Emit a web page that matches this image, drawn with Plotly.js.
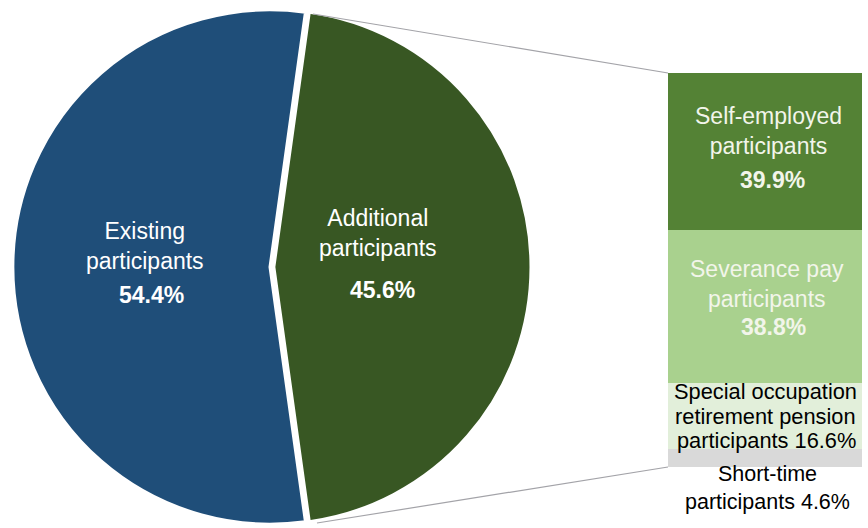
<!DOCTYPE html>
<html>
<head>
<meta charset="utf-8">
<script src="https://cdn.plot.ly/plotly-3.0.1.min.js"></script>
<style>
  html, body { margin: 0; padding: 0; background: #ffffff; }
  #chart { width: 868px; height: 528px; }
</style>
</head>
<body>
<div id="chart"></div>
<script>
// ---- data ----
const pieLabels = ['Additional participants', 'Existing participants'];
const pieValues = [45.6, 54.4];
const pieColors = ['#385723', '#1f4e79'];
const pieLabelLines = [['Additional', 'participants'], ['Existing', 'participants']];

const barLabels = ['Short-time participants', 'Special occupation retirement pension participants', 'Severance pay participants', 'Self-employed participants'];
const barValues = [4.6, 16.6, 38.8, 39.9];
const barColors = ['#d9d9d9', '#e2efda', '#a9d18e', '#548235'];
const barLabelLines = [
  ['Short-time', 'participants'],
  ['Special occupation', 'retirement pension', 'participants'],
  ['Severance pay', 'participants'],
  ['Self-employed', 'participants']
];

// ---- layout helpers ----
const W = 868, H = 528;
const FONT = 'Liberation Sans, Arial, sans-serif';
const px = x => x / W;
const py = y => 1 - y / H;
const pct = v => v.toFixed(1) + '%';

// centred annotation; firstBase/lastBase are the baselines of first and last line
function ann(lines, x, firstBase, lastBase, size, color) {
  const mid = (firstBase + lastBase) / 2 - 0.35 * size;
  return {
    text: lines.join('<br>'), xref: 'paper', yref: 'paper',
    x: px(x), y: py(mid),
    xanchor: 'center', yanchor: 'middle', align: 'center', showarrow: false,
    font: { family: FONT, size: size, color: color }
  };
}

const pieTrace = {
  type: 'pie',
  labels: pieLabels,
  values: pieValues,
  sort: false,
  direction: 'clockwise',
  rotation: 90 - pieValues[0] / 100 * 180,
  pull: [0.015, 0],
  marker: { colors: pieColors, line: { color: '#ffffff', width: 3 } },
  textinfo: 'none',
  hoverinfo: 'label+percent',
  showlegend: false,
  domain: { x: [px(9), px(531)], y: [0, py(6)] }
};

const barTraces = barLabels.map((lab, i) => ({
  type: 'bar',
  name: lab,
  x: [0],
  y: [barValues[i]],
  width: 1,
  marker: { color: barColors[i], line: { width: 0 } },
  xaxis: 'x', yaxis: 'y',
  showlegend: false,
  hoverinfo: 'name+y'
}));

const WHITE = '#ffffff', CREAM = '#f2f5ea', BLACK = '#000000';
const annotations = [
  // pie labels
  ann(pieLabelLines[1], 145, 243, 265, 23, WHITE),
  ann(['<b>' + pct(pieValues[1]) + '</b>'], 151, 303, 303, 23, WHITE),
  ann(pieLabelLines[0], 378, 230, 252, 23, WHITE),
  ann(['<b>' + pct(pieValues[0]) + '</b>'], 382, 298, 298, 23, WHITE),
  // bar labels
  ann(barLabelLines[3], 768, 128, 150, 23, CREAM),
  ann(['<b>' + pct(barValues[3]) + '</b>'], 772, 188, 188, 23, CREAM),
  ann(barLabelLines[2], 767, 282, 303, 23, CREAM),
  ann(['<b>' + pct(barValues[2]) + '</b>'], 773, 335, 335, 23, CREAM),
  ann([barLabelLines[1][0]], 765, 399.5, 399.5, 21.8, BLACK),
  ann([barLabelLines[1][1]], 765, 424, 424, 21.8, BLACK),
  ann([barLabelLines[1][2] + ' ' + pct(barValues[1])], 766, 448.5, 448.5, 21.8, BLACK),
  ann([barLabelLines[0][0], barLabelLines[0][1] + ' ' + pct(barValues[0])], 767, 485, 507, 21.5, BLACK)
];

const shapes = [
  { type: 'line', xref: 'paper', yref: 'paper', x0: px(313), y0: py(14), x1: px(668), y1: py(73),
    line: { color: '#a3a3a8', width: 1.2 } },
  { type: 'line', xref: 'paper', yref: 'paper', x0: px(317), y0: py(523), x1: px(668), y1: py(467),
    line: { color: '#a3a3a8', width: 1.2 } }
];

const layout = {
  width: W, height: H,
  margin: { l: 0, r: 0, t: 0, b: 0, pad: 0 },
  paper_bgcolor: '#ffffff', plot_bgcolor: 'rgba(0,0,0,0)',
  barmode: 'stack',
  bargap: 0,
  xaxis: { domain: [px(668), px(862)], range: [-0.5, 0.5], visible: false, fixedrange: true },
  yaxis: { domain: [py(467), py(73)], range: [0, barValues.reduce((a, b) => a + b, 0)], visible: false, fixedrange: true },
  annotations: annotations,
  shapes: shapes,
  font: { family: FONT }
};

Plotly.newPlot('chart', [pieTrace].concat(barTraces), layout, { displayModeBar: false, staticPlot: true });
</script>
</body>
</html>
